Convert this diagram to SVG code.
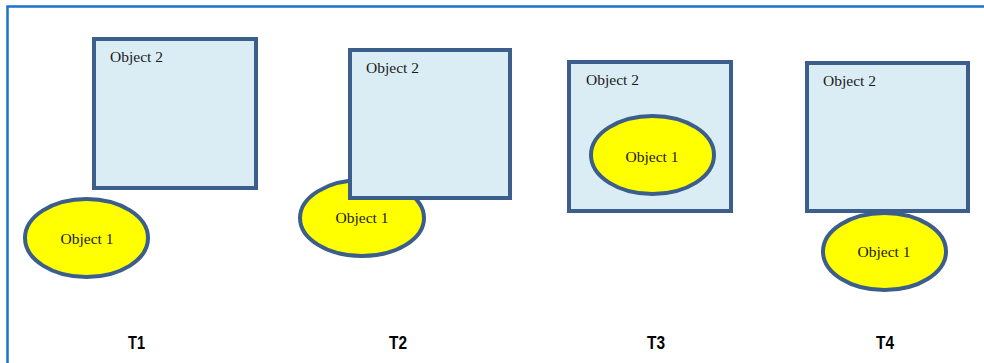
<svg xmlns="http://www.w3.org/2000/svg" width="984" height="363" viewBox="0 0 984 363">
<style>
.box{fill:#dbedf4;stroke:#3b5e8c;stroke-width:4}
.ell{fill:#ffff00;stroke:#3b5e8c;stroke-width:4}
.lbl{font-family:"Liberation Serif",serif;font-size:15.5px;fill:#1a1a1a}
.mid{text-anchor:middle}
.t{font-family:"Liberation Sans",Arial,sans-serif;font-size:18px;font-weight:bold;text-anchor:middle;fill:#000}
</style>
<rect x="7.5" y="6.5" width="1000" height="400" fill="none" stroke="#1a73c9" stroke-width="2.5"/>
<g id="t1">
<g id="t1-object2"><rect class="box" x="94" y="39" width="162" height="149"/><text class="lbl" x="110" y="62">Object 2</text></g>
<g id="t1-object1"><ellipse class="ell" cx="86.5" cy="238" rx="61.5" ry="39"/><text class="lbl mid" x="87" y="244">Object 1</text></g>
<text class="t" x="136.5" y="349" textLength="17" lengthAdjust="spacingAndGlyphs">T1</text>
</g>
<g id="t2">
<g id="t2-object1"><ellipse class="ell" cx="362" cy="218" rx="62" ry="38"/><text class="lbl mid" x="362" y="223">Object 1</text></g>
<g id="t2-object2"><rect class="box" x="350" y="50" width="160" height="148"/><text class="lbl" x="366" y="73">Object 2</text></g>
<text class="t" x="398" y="349" textLength="18" lengthAdjust="spacingAndGlyphs">T2</text>
</g>
<g id="t3">
<g id="t3-object2"><rect class="box" x="569" y="62" width="162" height="149"/><text class="lbl" x="586" y="85">Object 2</text></g>
<g id="t3-object1"><ellipse class="ell" cx="652.5" cy="155" rx="61.5" ry="39"/><text class="lbl mid" x="652" y="162">Object 1</text></g>
<text class="t" x="656" y="349" textLength="18" lengthAdjust="spacingAndGlyphs">T3</text>
</g>
<g id="t4">
<g id="t4-object2"><rect class="box" x="807" y="63" width="161" height="148"/><text class="lbl" x="823" y="86">Object 2</text></g>
<g id="t4-object1"><ellipse class="ell" cx="884.5" cy="251.5" rx="61.5" ry="38.5"/><text class="lbl mid" x="884" y="257">Object 1</text></g>
<text class="t" x="885" y="349" textLength="18" lengthAdjust="spacingAndGlyphs">T4</text>
</g>
</svg>
